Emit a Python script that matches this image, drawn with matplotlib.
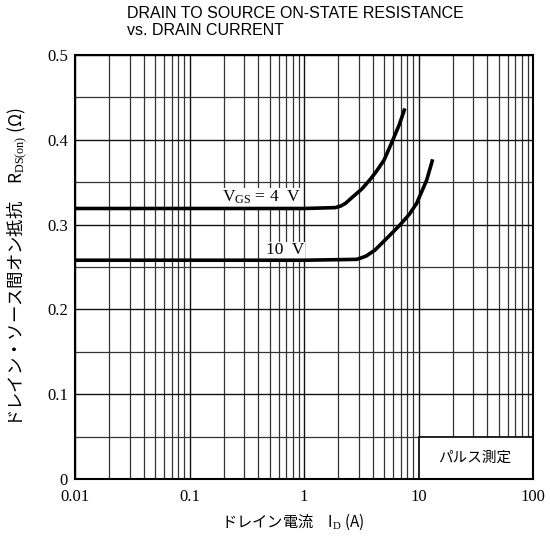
import matplotlib
matplotlib.use("Agg")
import matplotlib.pyplot as plt
from matplotlib.ticker import LogLocator, MultipleLocator, FixedLocator, FixedFormatter, NullFormatter
from matplotlib.patches import Rectangle

plt.rcParams['mathtext.fontset'] = 'custom'
plt.rcParams['mathtext.rm'] = 'Liberation Serif'
plt.rcParams['mathtext.it'] = 'Liberation Serif:italic'

# ---- data ----
id_4v = [0.01, 1.0, 1.87, 2.1, 2.3, 2.68, 3.2, 3.77, 4.3, 5.0, 5.98, 6.8, 7.6]
r_4v = [0.319, 0.319, 0.320, 0.322, 0.325, 0.333, 0.342, 0.353, 0.363, 0.376, 0.400, 0.418, 0.437]

id_10v = [0.01, 1.0, 2.88, 3.2, 3.5, 4.17, 5.3, 6.88, 8.3, 9.63, 11.8, 13.3]
r_10v = [0.258, 0.258, 0.259, 0.261, 0.263, 0.270, 0.284, 0.2995, 0.312, 0.325, 0.3526, 0.377]

x_ticks = [0.01, 0.1, 1, 10, 100]
x_tick_labels = ['0.01', '0.1', '1', '10', '100']
y_ticks = [0, 0.1, 0.2, 0.3, 0.4, 0.5]
y_tick_labels = ['0', '0.1', '0.2', '0.3', '0.4', '0.5']

title = "DRAIN TO SOURCE ON-STATE RESISTANCE\nvs. DRAIN CURRENT"
ylabel = "ドレイン・ソース間オン抵抗　R$_{\\mathrm{DS(on)}}$ (Ω)"
xlabel = "ドレイン電流　I$_{\\mathrm{D}}$ (A)"
note = "パルス測定"

cjk = ['Noto Sans CJK JP', 'DejaVu Sans']
serif = ['Liberation Serif', 'DejaVu Serif']

fig = plt.figure(figsize=(5.5, 5.41), dpi=100)
ax = fig.add_axes([75/550, 1-479/541, 458/550, 424/541])

ax.set_xscale('log')
ax.set_xlim(0.01, 100)
ax.set_ylim(0, 0.5)

ax.xaxis.set_major_locator(FixedLocator(x_ticks))
ax.xaxis.set_major_formatter(FixedFormatter(x_tick_labels))
ax.xaxis.set_minor_locator(LogLocator(base=10, subs=range(2, 10), numticks=50))
ax.xaxis.set_minor_formatter(NullFormatter())
ax.yaxis.set_major_locator(FixedLocator(y_ticks))
ax.yaxis.set_major_formatter(FixedFormatter(y_tick_labels))
ax.yaxis.set_minor_locator(MultipleLocator(0.05))

ax.grid(which='major', color='#111111', lw=1.0)
ax.grid(which='minor', color='#333333', lw=0.9)
ax.set_axisbelow(True)

ax.tick_params(which='both', length=0)
ax.tick_params(axis='x', pad=7)
ax.tick_params(axis='y', pad=5)
for lab in ax.get_xticklabels() + ax.get_yticklabels():
    lab.set_family(serif)
    lab.set_fontsize(12)

for s in ax.spines.values():
    s.set_linewidth(1.5)
    s.set_color('black')

# pulse measurement box
ax.add_patch(Rectangle((10, 0), 90, 0.05, facecolor='white', edgecolor='black', lw=1.2, zorder=2))
ax.text(31.1, 0.025, note, family=cjk, fontsize=10.5, ha='center', va='center', zorder=3)

ax.plot(id_4v, r_4v, color='black', lw=2.6, solid_capstyle='butt', solid_joinstyle='round', zorder=6)
ax.plot(id_10v, r_10v, color='black', lw=2.6, solid_capstyle='butt', solid_joinstyle='round', zorder=6)

ax.text(0.192, 0.3267, "V$_{\\mathrm{GS}}$ = 4  V", family=serif, fontsize=12.5, va='baseline', ha='left',
        zorder=5, bbox=dict(facecolor='white', edgecolor='none', pad=0.5))
ax.text(0.466, 0.265, "10  V", family=serif, fontsize=12.5, va='baseline', ha='left',
        zorder=5, bbox=dict(facecolor='white', edgecolor='none', pad=0.5))

fig.text(127/550, 1-6/541, title, family=['Liberation Sans', 'DejaVu Sans'], fontsize=11.5,
         ha='left', va='top', linespacing=1.2)
fig.text(18/550, 1-267/541, ylabel, family=cjk, fontsize=12.5, rotation=90, ha='center', va='center')
fig.text(293/550, 1-522/541, xlabel, family=cjk, fontsize=11, ha='center', va='center')

fig.savefig('out.png', dpi=100)
